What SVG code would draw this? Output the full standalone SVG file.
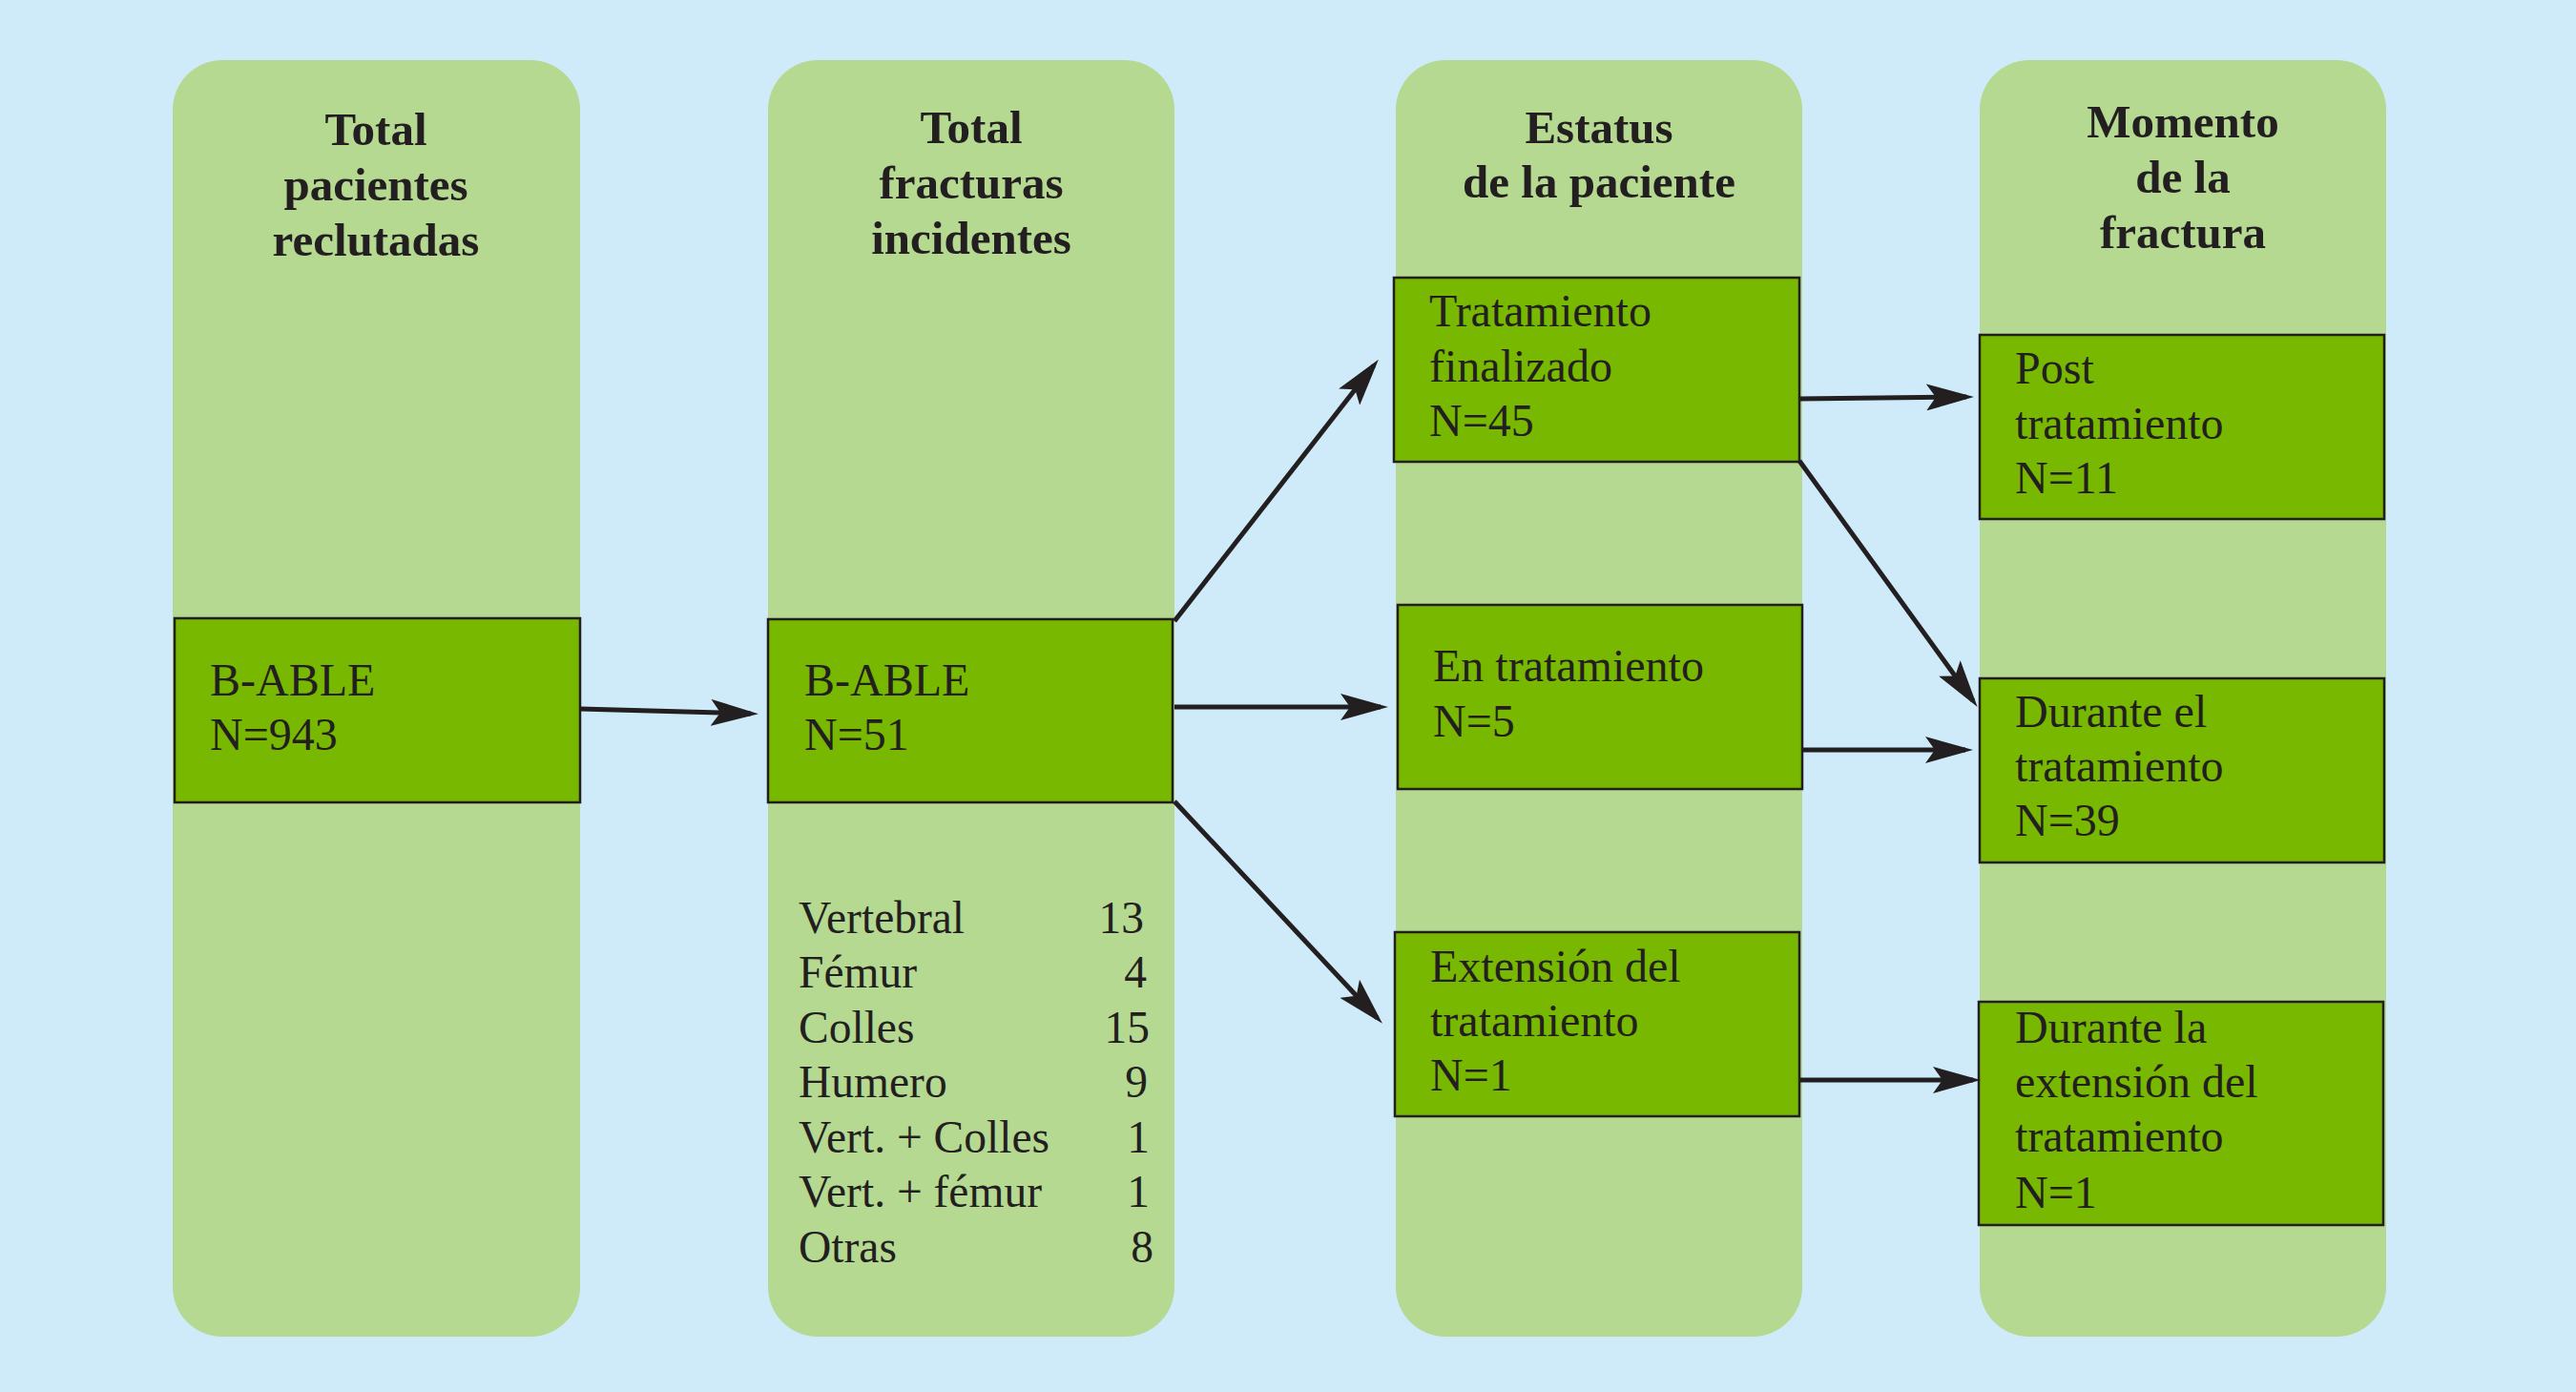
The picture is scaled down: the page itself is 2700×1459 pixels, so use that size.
<svg xmlns="http://www.w3.org/2000/svg" width="2700" height="1459" viewBox="0 0 2700 1459">
<style>
.col{fill:#B5D991;}
.box{fill:#78B800;stroke:#231F20;stroke-width:2.5;}
.hd{font-family:"Liberation Serif",serif;font-weight:bold;font-size:49px;fill:#231F20;text-anchor:middle;}
.bt{font-family:"Liberation Serif",serif;font-size:48px;fill:#231F20;}
.lt{font-family:"Liberation Serif",serif;font-size:47.5px;fill:#231F20;}
.num{text-anchor:end;}
.arr{stroke:#231F20;stroke-width:5;fill:none;marker-end:url(#ah);}
</style>
<defs>
<marker id="ah" markerUnits="userSpaceOnUse" markerWidth="50" markerHeight="28" refX="42" refY="14" orient="auto" viewBox="0 0 50 28">
<path d="M0,0 L50,14 L0,28 L10,14 Z" fill="#231F20"/>
</marker>
</defs>
<rect x="0" y="0" width="2700" height="1459" fill="#CFEBFA"/>

<g id="col1">
<rect class="col" x="181" y="63" width="427" height="1338" rx="52" ry="52"/>
<text class="hd" x="394" y="152">Total</text>
<text class="hd" x="394" y="210">pacientes</text>
<text class="hd" x="394" y="268">reclutadas</text>
</g>
<g id="col2">
<rect class="col" x="805" y="63" width="426" height="1338" rx="52" ry="52"/>
<text class="hd" x="1018" y="150">Total</text>
<text class="hd" x="1018" y="208">fracturas</text>
<text class="hd" x="1018" y="266">incidentes</text>
</g>
<g id="col3">
<rect class="col" x="1463" y="63" width="426" height="1338" rx="52" ry="52"/>
<text class="hd" x="1676" y="150">Estatus</text>
<text class="hd" x="1676" y="207">de la paciente</text>
</g>
<g id="col4">
<rect class="col" x="2075" y="63" width="426" height="1338" rx="52" ry="52"/>
<text class="hd" x="2288" y="144">Momento</text>
<text class="hd" x="2288" y="202">de la</text>
<text class="hd" x="2288" y="260">fractura</text>
</g>

<g id="box-pacientes">
<rect class="box" x="183" y="648" width="425" height="193"/>
<text class="bt" x="220" y="729">B-ABLE</text>
<text class="bt" x="220" y="786">N=943</text>
</g>
<g id="box-fracturas">
<rect class="box" x="805" y="649" width="424" height="192"/>
<text class="bt" x="843" y="729">B-ABLE</text>
<text class="bt" x="843" y="786">N=51</text>
</g>
<g id="list-fracturas">
<text class="lt" x="837" y="978">Vertebral</text>
<text class="lt" x="837" y="1035">Fémur</text>
<text class="lt" x="837" y="1093">Colles</text>
<text class="lt" x="837" y="1150">Humero</text>
<text class="lt" x="837" y="1208">Vert. + Colles</text>
<text class="lt" x="837" y="1265">Vert. + fémur</text>
<text class="lt" x="837" y="1323">Otras</text>
<text class="lt num" x="1199" y="978">13</text>
<text class="lt num" x="1202" y="1035">4</text>
<text class="lt num" x="1205" y="1093">15</text>
<text class="lt num" x="1203" y="1150">9</text>
<text class="lt num" x="1205" y="1208">1</text>
<text class="lt num" x="1205" y="1265">1</text>
<text class="lt num" x="1209" y="1323">8</text>
</g>
<g id="box-finalizado">
<rect class="box" x="1461" y="291" width="425" height="193"/>
<text class="bt" x="1498" y="342">Tratamiento</text>
<text class="bt" x="1498" y="400">finalizado</text>
<text class="bt" x="1498" y="457">N=45</text>
</g>
<g id="box-en-tratamiento">
<rect class="box" x="1465" y="634" width="424" height="193"/>
<text class="bt" x="1502" y="714">En tratamiento</text>
<text class="bt" x="1502" y="772">N=5</text>
</g>
<g id="box-extension">
<rect class="box" x="1462" y="977" width="424" height="193"/>
<text class="bt" x="1499" y="1029">Extensión del</text>
<text class="bt" x="1499" y="1086">tratamiento</text>
<text class="bt" x="1499" y="1143">N=1</text>
</g>
<g id="box-post">
<rect class="box" x="2075" y="351" width="424" height="193"/>
<text class="bt" x="2112" y="402">Post</text>
<text class="bt" x="2112" y="460">tratamiento</text>
<text class="bt" x="2112" y="517">N=11</text>
</g>
<g id="box-durante">
<rect class="box" x="2075" y="711" width="424" height="193"/>
<text class="bt" x="2112" y="762">Durante el</text>
<text class="bt" x="2112" y="819">tratamiento</text>
<text class="bt" x="2112" y="876">N=39</text>
</g>
<g id="box-durante-extension">
<rect class="box" x="2074" y="1050" width="424" height="234"/>
<text class="bt" x="2112" y="1093">Durante la</text>
<text class="bt" x="2112" y="1150">extensión del</text>
<text class="bt" x="2112" y="1207">tratamiento</text>
<text class="bt" x="2112" y="1266">N=1</text>
</g>

<g id="connectors">
<line class="arr" x1="608" y1="743" x2="787" y2="748"/>
<line class="arr" x1="1231" y1="651" x2="1440" y2="383"/>
<line class="arr" x1="1231" y1="741" x2="1447" y2="741"/>
<line class="arr" x1="1231" y1="840" x2="1443.5" y2="1067"/>
<line class="arr" x1="1886" y1="418" x2="2061" y2="416"/>
<line class="arr" x1="1886" y1="483" x2="2068" y2="734.5"/>
<line class="arr" x1="1889" y1="786" x2="2060" y2="786"/>
<line class="arr" x1="1886" y1="1132" x2="2068" y2="1132"/>
</g>
</svg>
